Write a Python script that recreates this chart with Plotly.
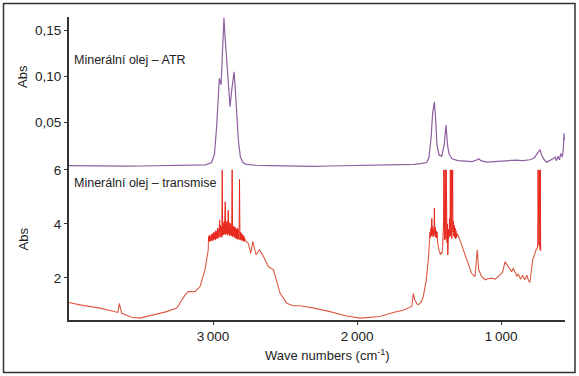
import plotly.graph_objects as go
from plotly.subplots import make_subplots

# ---------------- data ----------------
# ATR spectrum (top panel)
atr_wn = [4000, 3900, 3800, 3700, 3600, 3500, 3400, 3300, 3200, 3100, 3050, 3010, 2990, 2975,
          2965, 2956, 2950, 2944, 2935, 2924, 2915, 2901, 2892, 2882, 2870, 2860, 2854, 2845,
          2835, 2824, 2810, 2792, 2770, 2700, 2600, 2500, 2400, 2300, 2200, 2100, 2000, 1900,
          1800, 1700, 1600, 1550, 1516, 1500, 1485, 1475, 1463, 1455, 1445, 1430, 1412, 1395,
          1382, 1372, 1360, 1340, 1300, 1250, 1200, 1165, 1155, 1140, 1100, 1050, 1000, 950,
          900, 850, 800, 770, 745, 729, 718, 700, 683, 660, 640, 625, 615, 605, 595, 585, 575,
          568, 563, 560]
atr_abs = [0.0025, 0.0022, 0.0025, 0.0018, 0.0020, 0.0022, 0.0025, 0.0024, 0.0026, 0.0028, 0.0035,
           0.006, 0.015, 0.045, 0.075, 0.098, 0.094, 0.091, 0.125, 0.164, 0.140, 0.107, 0.085,
           0.067, 0.085, 0.100, 0.105, 0.085, 0.063, 0.030, 0.012, 0.006, 0.004, 0.003, 0.0025,
           0.002, 0.0015, 0.0018, 0.0022, 0.0025, 0.0023, 0.0025, 0.003, 0.0035, 0.004, 0.005,
           0.006, 0.012, 0.035, 0.060, 0.0723, 0.055, 0.025, 0.014, 0.013, 0.025, 0.047, 0.025,
           0.015, 0.010, 0.008, 0.0075, 0.007, 0.009, 0.010, 0.008, 0.0065, 0.007, 0.0075,
           0.0085, 0.0085, 0.008, 0.009, 0.011, 0.016, 0.020, 0.014, 0.009, 0.0064, 0.008,
           0.010, 0.012, 0.008, 0.013, 0.009, 0.016, 0.012, 0.020, 0.038, 0.030]

# Transmission spectrum (bottom panel) - smooth parts (None = gap under noisy bands)
trans_wn = [4000, 3924, 3785, 3692, 3660, 3651, 3634, 3565, 3507, 3415, 3322, 3252, 3194, 3172,
            3125, 3090, 3056, 3033, 3032, None, 2777, 2755, 2738, 2724, 2701, 2678, 2650, 2616,
            2580, 2535, 2488, 2444, 2396, 2306, 2188, 2072, 1979, 1900, 1840, 1748, 1680, 1644,
            1620, 1609, 1600, 1585, 1574, 1555, 1540, 1520, 1505, 1496, None, 1440, 1435, 1430,
            1420, 1415, 1410, 1405, None, 1304, 1300, 1285, 1262, 1240, 1205, 1181, 1170, 1165,
            1155, 1135, 1110, 1090, 1065, 1040, 1020, 990, 972, 950, 940, 927, 915, 903, 890,
            880, 865, 850, 835, 820, 810, 800, 790, 780, 757, 748]
trans_abs = [1.09, 1.00, 0.88, 0.75, 0.72, 1.06, 0.69, 0.54, 0.51, 0.63, 0.75, 0.88, 1.37, 1.49,
             1.49, 1.68, 2.30, 3.04, 3.36, None, 3.38, 3.28, 2.91, 3.35, 2.85, 3.04, 2.80, 2.42,
             2.30, 1.44, 1.06, 0.97, 0.97, 0.89, 0.75, 0.59, 0.51, 0.53, 0.57, 0.72, 0.80, 0.88,
             0.95, 1.43, 1.20, 1.05, 1.00, 1.10, 1.31, 1.90, 2.67, 3.45, None, 3.30, 3.10, 3.00,
             2.85, 2.95, 2.90, 3.20, None, 3.55, 3.60, 3.40, 3.04, 2.73, 2.17, 2.05, 2.60, 3.04,
             2.30, 2.05, 1.93, 1.97, 1.99, 1.95, 2.05, 2.20, 2.60, 2.42, 2.30, 2.23, 2.36, 2.20,
             2.05, 2.15, 1.95, 2.10, 1.93, 2.10, 1.90, 1.83, 2.20, 2.67, 3.04, 3.10]

# Transmission - noisy C-H stretching band
band1_wn = [3032, 3029, 3026, 3023, 3020, 3017, 3014, 3011, 3008, 3005, 3002, 2999, 2996, 2993,
            2990, 2987, 2984, 2981, 2978, 2975, 2972, 2969, 2966, 2963, 2960, 2957, 2954, 2951,
            2948, 2945, 2942, 2939, 2936, 2933, 2930, 2927, 2924, 2921, 2918, 2915, 2912, 2909,
            2906, 2903, 2900, 2897, 2894, 2891, 2888, 2885, 2882, 2879, 2876, 2873, 2870, 2867,
            2864, 2861, 2858, 2855, 2852, 2849, 2846, 2843, 2840, 2837, 2834, 2831, 2828, 2825,
            2822, 2819, 2816, 2813, 2810, 2807, 2804, 2801, 2798, 2795, 2792, 2789, 2786, 2783,
            2780, 2777]
band1_abs = [3.36, 3.55, 3.34, 3.58, 3.38, 3.52, 3.36, 3.62, 3.40, 3.60, 3.38, 3.66, 3.42, 3.70,
             3.45, 3.64, 3.40, 3.75, 3.48, 3.72, 3.44, 3.85, 3.50, 3.80, 3.48, 3.90, 4.15, 3.52,
             3.95, 3.55, 3.88, 3.50, 6.00, 3.58, 4.00, 3.60, 4.08, 3.62, 3.98, 4.82, 3.60, 4.05,
             3.65, 4.10, 3.58, 4.00, 4.50, 3.62, 4.05, 3.56, 3.98, 3.60, 4.02, 3.55, 3.95, 6.00,
             3.52, 3.92, 3.55, 3.88, 3.50, 3.90, 3.48, 3.84, 3.46, 3.80, 3.44, 3.85, 3.42, 3.78,
             3.45, 3.72, 5.65, 3.40, 3.70, 3.42, 3.66, 3.38, 3.62, 3.40, 3.58, 3.36, 3.55, 3.35,
             3.48, 3.38]

# Transmission - noisy CH2/CH3 bending bands
band2_wn = [1496, 1493, 1490, 1487, 1484, 1481, 1478, 1475, 1472, 1469, 1466, 1463, 1460, 1457,
            1454, 1451, 1448, 1445, 1442, 1440]
band2_abs = [3.45, 3.70, 3.50, 3.85, 3.55, 4.20, 3.60, 3.90, 3.52, 3.80, 3.55, 4.58, 3.62, 3.88,
             3.50, 3.75, 3.48, 3.70, 3.45, 3.30]

band3_wn = [1405, 1402, 1399, 1397, 1395, 1393, 1391, 1389, 1387, 1385, 1383, 1381, 1379, 1377,
            1375, 1373, 1370, 1367, 1364, 1361, 1358, 1356, 1354, 1352, 1350, 1348, 1346, 1344,
            1342, 1340, 1338, 1336, 1334, 1331, 1328, 1325, 1322, 1319, 1316, 1313, 1310, 1307,
            1304]
band3_abs = [3.20, 3.60, 4.10, 6.00, 3.50, 6.00, 3.40, 6.00, 3.60, 6.00, 3.45, 6.00, 3.70, 6.00,
             3.30, 4.00, 2.85, 3.30, 3.80, 3.50, 4.20, 6.00, 3.60, 6.00, 3.55, 6.00, 3.70, 6.00,
             3.45, 6.00, 3.60, 6.00, 3.70, 4.10, 3.55, 3.95, 3.50, 3.85, 3.45, 3.75, 3.50, 3.65,
             3.55]

band4_wn = [748, 745, 743, 741, 739, 737, 735, 733, 731, 729, 727, 725]
band4_abs = [3.10, 3.25, 6.00, 3.30, 6.00, 3.20, 6.00, 3.10, 6.00, 3.05, 6.00, 3.00]

x_tick_vals = [3000, 2000, 1000]
x_tick_text = ["3\u2009000", "2\u2009000", "1\u2009000"]
top_tick_vals = [0.05, 0.10, 0.15]
top_tick_text = ["0,05", "0,10", "0,15"]
bot_tick_vals = [2, 4, 6]
bot_tick_text = ["2", "4", "6"]

assert len(band1_wn) == len(band1_abs)
assert len(trans_wn) == len(trans_abs)
assert len(atr_wn) == len(atr_abs)

# ---------------- figure ----------------
FONT = "Arial, 'Liberation Sans', sans-serif"
AXC = "#333333"
purple = "#8f5f9f"
red_light = "#dc5a45"
red_dense = "#e8281e"

fig = make_subplots(rows=2, cols=1, shared_xaxes=True, vertical_spacing=0)

fig.add_trace(go.Scatter(x=atr_wn, y=atr_abs, mode="lines",
                         line=dict(color=purple, width=1.2), showlegend=False), row=1, col=1)
fig.add_trace(go.Scatter(x=trans_wn, y=trans_abs, mode="lines", connectgaps=False,
                         line=dict(color=red_light, width=1.1), showlegend=False), row=2, col=1)
for bw, ba in [(band1_wn, band1_abs), (band2_wn, band2_abs), (band3_wn, band3_abs), (band4_wn, band4_abs)]:
    fig.add_trace(go.Scatter(x=bw, y=ba, mode="lines",
                             line=dict(color=red_dense, width=1), showlegend=False), row=2, col=1)

split = (320 - 168) / 303.0

fig.update_layout(
    width=579, height=376,
    margin=dict(l=69, r=14, t=17, b=56),
    paper_bgcolor="white", plot_bgcolor="white",
    font=dict(family=FONT, color="#222222", size=13),
    showlegend=False,
)

fig.update_xaxes(range=[4000, 556], showgrid=False, zeroline=False)
fig.update_xaxes(row=1, col=1, showline=False, showticklabels=False, ticks="")
fig.update_xaxes(row=2, col=1, showline=True, linecolor=AXC, linewidth=2,
                 ticks="outside", ticklen=3, tickcolor=AXC, tickwidth=1,
                 tickvals=x_tick_vals, ticktext=x_tick_text,
                 tickfont=dict(size=13.5, color="#222222"))

fig.update_yaxes(row=1, col=1, domain=[split, 1], range=[0, 0.165],
                 showgrid=False, zeroline=False, showline=True, linecolor=AXC, linewidth=2,
                 ticks="outside", ticklen=3, tickcolor=AXC, tickwidth=1,
                 tickvals=top_tick_vals, ticktext=top_tick_text,
                 tickfont=dict(size=13.5, color="#222222"))
fig.update_yaxes(row=2, col=1, domain=[0, split], range=[0.44, 6.07],
                 showgrid=False, zeroline=False, showline=True, linecolor=AXC, linewidth=2,
                 ticks="outside", ticklen=3, tickcolor=AXC, tickwidth=1,
                 tickvals=bot_tick_vals, ticktext=bot_tick_text,
                 tickfont=dict(size=13.5, color="#222222"))

def px_x(p):
    return (p - 69) / 496.0

def px_y(p):
    return (320 - p) / 303.0

annots = [
    dict(text="Minerální olej – ATR", x=px_x(72), y=px_y(60), xanchor="left", yanchor="middle",
         font=dict(size=12.5)),
    dict(text="Minerální olej – transmise", x=px_x(72), y=px_y(183), xanchor="left",
         yanchor="middle", font=dict(size=12.5)),
    dict(text="Abs", x=px_x(22.5), y=px_y(76.5), textangle=-90, xanchor="center",
         yanchor="middle", font=dict(size=13)),
    dict(text="Abs", x=px_x(22.5), y=px_y(239), textangle=-90, xanchor="center",
         yanchor="middle", font=dict(size=13)),
    dict(text="Wave numbers (cm<sup>-1</sup>)", x=px_x(327), y=px_y(355), xanchor="center",
         yanchor="middle", font=dict(size=13)),
]
for a in annots:
    a.update(xref="paper", yref="paper", showarrow=False)
fig.update_layout(annotations=annots)

fig.add_shape(type="rect", xref="paper", yref="paper",
              x0=px_x(3.5), x1=px_x(575), y0=px_y(372.5), y1=px_y(3.5),
              line=dict(color="#333333", width=1.5), fillcolor="rgba(0,0,0,0)", layer="above")

fig.write_html("out.html", config={"displayModeBar": False},
               post_script="document.body.style.margin='0';document.body.style.padding='0';")
